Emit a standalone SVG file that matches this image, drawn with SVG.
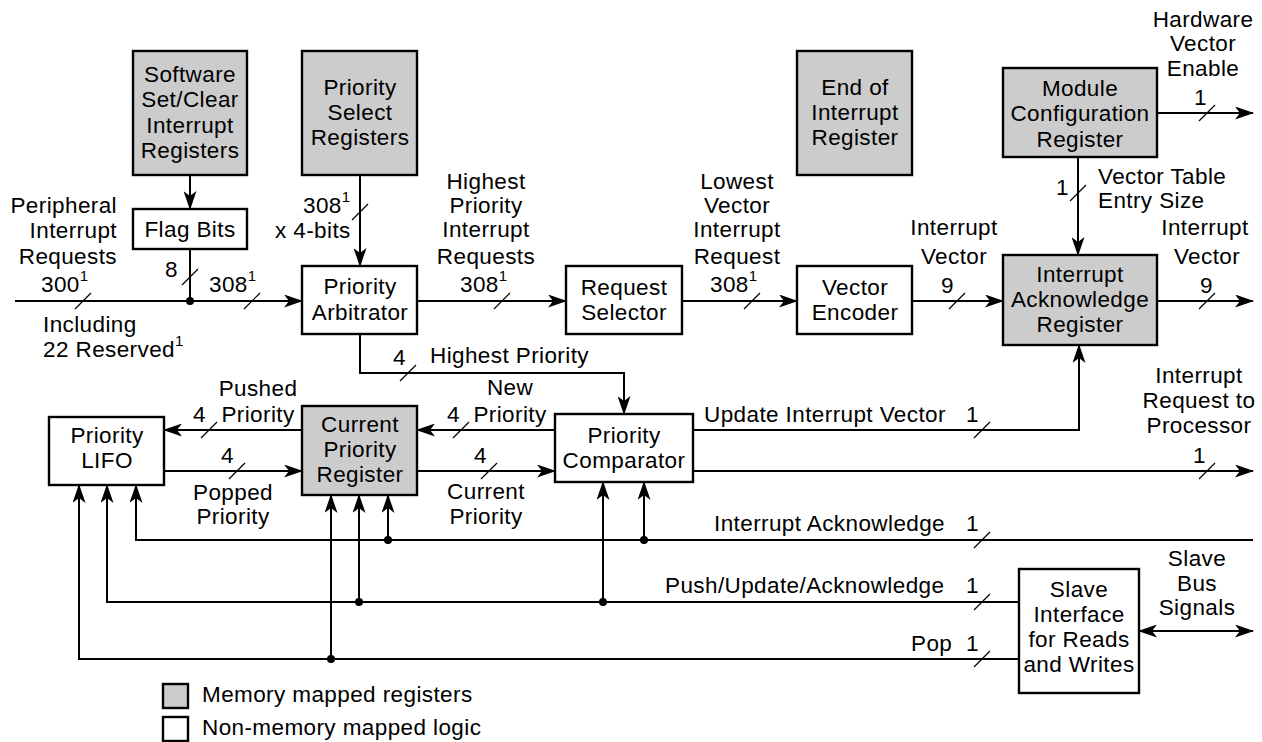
<svg xmlns="http://www.w3.org/2000/svg" width="1262" height="742" viewBox="0 0 1262 742">
<defs>
<style>
text{font-family:"Liberation Sans",Arial,Helvetica,sans-serif;font-size:22.5px;letter-spacing:0.4px;fill:#000}
.m{text-anchor:middle}
.reg{fill:#cccccc;stroke:#000;stroke-width:2.4}
.lg{fill:#fff;stroke:#000;stroke-width:2.4}
.w{fill:none;stroke:#000;stroke-width:2}
.a{fill:none;stroke:#000;stroke-width:2;marker-end:url(#ah)}
.s{stroke:#000;stroke-width:1.2}
.sup{font-size:15px}
</style>
<marker id="ah" markerWidth="19" markerHeight="13" refX="18" refY="6.5" orient="auto-start-reverse" markerUnits="userSpaceOnUse">
<path d="M0,0 L19,6.5 L0,13 L5,6.5 z" fill="#000"/>
</marker>
</defs>
<rect width="1262" height="742" fill="#fff"/>

<g id="connectors">
<path class="a" d="M15,301 H302"/>
<path class="w" d="M190,249 V301"/>
<circle cx="190" cy="301" r="4"/>
<path class="a" d="M190,175 V209"/>
<path class="a" d="M360,175 V266"/>
<path class="a" d="M417,301 H566"/>
<path class="a" d="M682,301 H797"/>
<path class="a" d="M912,301 H1003"/>
<path class="a" d="M1157,301 H1253"/>
<path class="a" d="M1157,113 H1253"/>
<path class="a" d="M1078,157 V255"/>
<path class="a" d="M360,334 V373 H624 V414"/>
<path class="a" d="M302,430 H164"/>
<path class="a" d="M164,471 H302"/>
<path class="a" d="M555,430 H417"/>
<path class="a" d="M417,471 H555"/>
<path class="a" d="M693,430 H1079 V345"/>
<path class="a" d="M693,471 H1253"/>
<path class="a" d="M1253,540 H136 V485"/>
<path class="a" d="M388,540 V495"/>
<path class="a" d="M644,540 V482"/>
<circle cx="388" cy="540" r="4"/>
<circle cx="644" cy="540" r="4"/>
<path class="a" d="M1019,602 H107 V485"/>
<path class="a" d="M359,602 V495"/>
<path class="a" d="M603,602 V482"/>
<circle cx="359" cy="602" r="4"/>
<circle cx="603" cy="602" r="4"/>
<path class="a" d="M1019,659 H79 V485"/>
<path class="a" d="M331,659 V495"/>
<circle cx="331" cy="659" r="4"/>
<path class="a" d="M1139,631 H1253" style="marker-start:url(#ah)"/>
<path class="s" d="M75,309 L91,293 M182,285 L198,269 M244,309 L260,293 M352,220 L368,204 M494,309 L510,293 M744,309 L760,293 M949,309 L965,293 M1199,309 L1215,293 M1199,121 L1215,105 M1070,201 L1086,185 M400,381 L416,365 M201,438 L217,422 M229,479 L245,463 M453,438 L469,422 M481,479 L497,463 M974,438 L990,422 M1199,479 L1215,463 M974,548 L990,532 M974,610 L990,594 M974,667 L990,651"/>
</g>

<g id="labels">
<text x="117" y="213" text-anchor="end">Peripheral</text>
<text x="117" y="238" text-anchor="end">Interrupt</text>
<text x="117" y="264" text-anchor="end">Requests</text>
<text x="41" y="292">300<tspan class="sup" dy="-11">1</tspan></text>
<text x="43" y="332">Including</text>
<text x="43" y="357">22 Reserved<tspan class="sup" dy="-11">1</tspan></text>
<text x="165" y="277">8</text>
<text x="209" y="292">308<tspan class="sup" dy="-11">1</tspan></text>
<text x="303" y="213">308<tspan class="sup" dy="-11">1</tspan></text>
<text x="275" y="238">x 4-bits</text>
<text class="m" x="486" y="189">Highest</text>
<text class="m" x="486" y="213">Priority</text>
<text class="m" x="486" y="237">Interrupt</text>
<text class="m" x="486" y="264">Requests</text>
<text x="460" y="292">308<tspan class="sup" dy="-11">1</tspan></text>
<text class="m" x="737" y="189">Lowest</text>
<text class="m" x="737" y="213">Vector</text>
<text class="m" x="737" y="237">Interrupt</text>
<text class="m" x="737" y="264">Request</text>
<text x="710" y="292">308<tspan class="sup" dy="-11">1</tspan></text>
<text class="m" x="954" y="235">Interrupt</text>
<text class="m" x="954" y="264">Vector</text>
<text x="941" y="293">9</text>
<text class="m" x="1205" y="235">Interrupt</text>
<text class="m" x="1207" y="264">Vector</text>
<text x="1200" y="293">9</text>
<text class="m" x="1203" y="27">Hardware</text>
<text class="m" x="1203" y="51">Vector</text>
<text class="m" x="1203" y="76">Enable</text>
<text x="1194" y="105">1</text>
<text x="1056" y="195">1</text>
<text x="1098" y="184">Vector Table</text>
<text x="1098" y="208">Entry Size</text>
<text x="393" y="365">4</text>
<text x="430" y="363">Highest Priority</text>
<text class="m" x="258" y="396">Pushed</text>
<text class="m" x="258" y="422">Priority</text>
<text x="193" y="422">4</text>
<text x="221" y="463">4</text>
<text class="m" x="233" y="500">Popped</text>
<text class="m" x="233" y="524">Priority</text>
<text class="m" x="510" y="395">New</text>
<text class="m" x="510" y="422">Priority</text>
<text x="447" y="422">4</text>
<text x="474" y="463">4</text>
<text class="m" x="486" y="499">Current</text>
<text class="m" x="486" y="524">Priority</text>
<text x="704" y="422">Update Interrupt Vector</text>
<text x="966" y="422">1</text>
<text class="m" x="1199" y="383">Interrupt</text>
<text class="m" x="1199" y="408">Request to</text>
<text class="m" x="1199" y="433">Processor</text>
<text x="1193" y="463">1</text>
<text x="714" y="531">Interrupt Acknowledge</text>
<text x="966" y="531">1</text>
<text x="665" y="593">Push/Update/Acknowledge</text>
<text x="966" y="593">1</text>
<text x="911" y="651">Pop</text>
<text x="966" y="651">1</text>
<text class="m" x="1197" y="566">Slave</text>
<text class="m" x="1197" y="591">Bus</text>
<text class="m" x="1197" y="615">Signals</text>
</g>

<g id="software-set-clear">
<rect class="reg" x="133" y="51" width="114" height="124"/>
<text class="m" x="190" y="82">Software</text>
<text class="m" x="190" y="107">Set/Clear</text>
<text class="m" x="190" y="133">Interrupt</text>
<text class="m" x="190" y="158">Registers</text>
</g>
<g id="priority-select">
<rect class="reg" x="302" y="51" width="115" height="124"/>
<text class="m" x="360" y="95">Priority</text>
<text class="m" x="360" y="120">Select</text>
<text class="m" x="360" y="145">Registers</text>
</g>
<g id="end-of-interrupt">
<rect class="reg" x="797" y="51" width="115" height="124"/>
<text class="m" x="855" y="95">End of</text>
<text class="m" x="855" y="120">Interrupt</text>
<text class="m" x="855" y="145">Register</text>
</g>
<g id="module-config">
<rect class="reg" x="1003" y="68" width="154" height="89"/>
<text class="m" x="1080" y="96">Module</text>
<text class="m" x="1080" y="121">Configuration</text>
<text class="m" x="1080" y="147">Register</text>
</g>
<g id="flag-bits">
<rect class="lg" x="133" y="209" width="114" height="40"/>
<text class="m" x="190" y="237">Flag Bits</text>
</g>
<g id="priority-arbitrator">
<rect class="lg" x="302" y="266" width="115" height="68"/>
<text class="m" x="360" y="294">Priority</text>
<text class="m" x="360" y="320">Arbitrator</text>
</g>
<g id="request-selector">
<rect class="lg" x="566" y="266" width="116" height="68"/>
<text class="m" x="624" y="295">Request</text>
<text class="m" x="624" y="320">Selector</text>
</g>
<g id="vector-encoder">
<rect class="lg" x="797" y="266" width="115" height="68"/>
<text class="m" x="855" y="295">Vector</text>
<text class="m" x="855" y="320">Encoder</text>
</g>
<g id="interrupt-ack-register">
<rect class="reg" x="1003" y="255" width="154" height="90"/>
<text class="m" x="1080" y="282">Interrupt</text>
<text class="m" x="1080" y="307">Acknowledge</text>
<text class="m" x="1080" y="332">Register</text>
</g>
<g id="priority-lifo">
<rect class="lg" x="49" y="417" width="115" height="68"/>
<text class="m" x="107" y="443">Priority</text>
<text class="m" x="107" y="468">LIFO</text>
</g>
<g id="current-priority-register">
<rect class="reg" x="302" y="406" width="115" height="89"/>
<text class="m" x="360" y="432">Current</text>
<text class="m" x="360" y="457">Priority</text>
<text class="m" x="360" y="482">Register</text>
</g>
<g id="priority-comparator">
<rect class="lg" x="555" y="414" width="138" height="68"/>
<text class="m" x="624" y="443">Priority</text>
<text class="m" x="624" y="468">Comparator</text>
</g>
<g id="slave-interface">
<rect class="lg" x="1019" y="569" width="120" height="124"/>
<text class="m" x="1079" y="597">Slave</text>
<text class="m" x="1079" y="622">Interface</text>
<text class="m" x="1079" y="647">for Reads</text>
<text class="m" x="1079" y="672">and Writes</text>
</g>
<g id="legend">
<rect class="reg" x="163" y="684" width="25" height="24"/>
<text x="202" y="702">Memory mapped registers</text>
<rect class="lg" x="163" y="717" width="25" height="24"/>
<text x="202" y="735">Non-memory mapped logic</text>
</g>
</svg>
